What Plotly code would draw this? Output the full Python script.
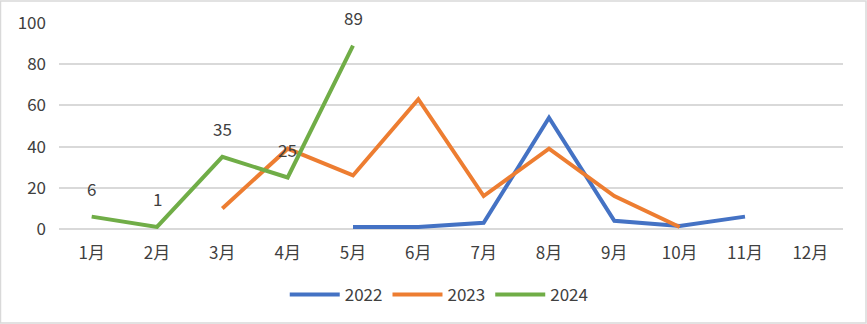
import plotly.graph_objects as go

months = ["1月", "2月", "3月", "4月", "5月", "6月", "7月", "8月", "9月", "10月", "11月", "12月"]
s2022 = [None, None, None, None, 1, 1, 3, 54, 4, 1.5, 6, None]
s2023 = [None, None, 10, 39, 26, 63, 16, 39, 16, 1, None, None]
s2024 = [6, 1, 35, 25, 89, None, None, None, None, None, None, None]
y_ticks = [0, 20, 40, 60, 80, 100]

font_family = "Noto Sans CJK SC, DejaVu Sans, sans-serif"
text_color = "#404040"

fig = go.Figure()
for name, vals, color in [("2022", s2022, "#4472C4"), ("2023", s2023, "#ED7D31"), ("2024", s2024, "#70AD47")]:
    fig.add_trace(go.Scatter(x=months, y=vals, name=name, mode="lines",
                             line=dict(color=color, width=4), connectgaps=False))

for m, v in zip(months, s2024):
    if v is not None:
        fig.add_annotation(x=m, y=v, text=str(v), showarrow=False, yshift=28,
                           font=dict(size=17, color=text_color, family=font_family))

fig.update_layout(
    width=867, height=324,
    margin=dict(l=59, r=24, t=23, b=95, autoexpand=False),
    paper_bgcolor="white", plot_bgcolor="white",
    font=dict(family=font_family, size=17, color=text_color),
    showlegend=True,
    legend=dict(orientation="h", x=0.485, xanchor="center", yref="container",
                y=(324 - 295) / 324, yanchor="middle",
                font=dict(size=17, color=text_color), itemwidth=50),
    shapes=[dict(type="rect", xref="paper", yref="paper", x0=-58.5/784, x1=1+23/784,
                 y0=-94/206, y1=1+22/206, line=dict(color="#D9D9D9", width=1.5))],
)
fig.update_xaxes(type="category", categoryorder="array", categoryarray=months,
                 showgrid=False, showline=False, ticks="", tickfont=dict(size=17),
                 range=[-0.5, 11.5], ticklabelstandoff=12, automargin=False)
fig.update_yaxes(range=[0, 100], tickvals=y_ticks, showgrid=True, gridcolor="#D9D9D9",
                 gridwidth=2, zeroline=True, zerolinecolor="#D9D9D9", zerolinewidth=2,
                 showline=False, ticks="", tickfont=dict(size=17),
                 ticklabelstandoff=12, layer="below traces", automargin=False)

fig.write_html("out.html")
